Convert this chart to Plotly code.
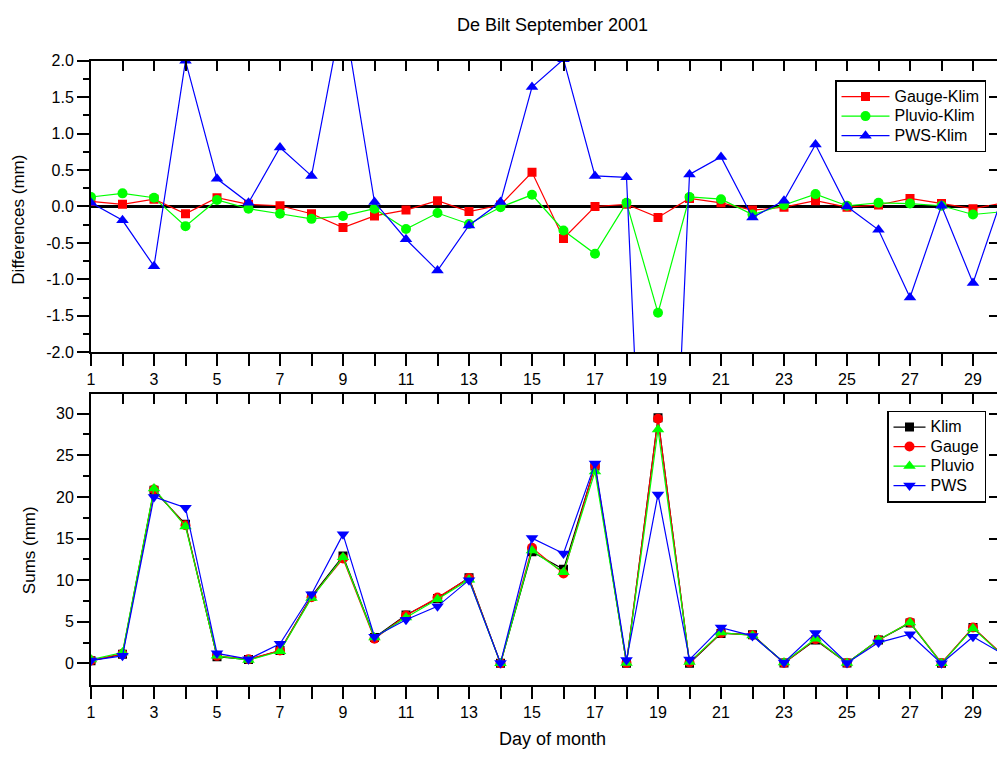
import plotly.graph_objects as go

# Days of September 2001
days = list(range(1, 31))

# Daily differences against the Klim reference (mm)
gauge_klim = [0.07, 0.03, 0.10, -0.10, 0.12, 0.03, 0.01, -0.10, -0.29, -0.13,
              -0.05, 0.08, -0.07, 0.02, 0.47, -0.44, 0.00, 0.03, -0.15, 0.11,
              0.05, -0.05, -0.01, 0.08, -0.01, 0.02, 0.11, 0.04, -0.03, 0.05]
pluvio_klim = [0.13, 0.18, 0.12, -0.27, 0.09, -0.03, -0.10, -0.17, -0.13, -0.03,
               -0.31, -0.09, -0.24, -0.01, 0.16, -0.33, -0.65, 0.05, -1.46, 0.13,
               0.10, -0.11, 0.02, 0.17, 0.01, 0.05, 0.04, 0.01, -0.11, -0.07]
pws_klim = [0.05, -0.19, -0.82, 2.00, 0.38, 0.05, 0.81, 0.42, 2.70, 0.06,
            -0.45, -0.88, -0.26, 0.06, 1.64, 2.02, 0.42, 0.40, -9.20, 0.44,
            0.68, -0.15, 0.08, 0.85, 0.00, -0.32, -1.25, 0.01, -1.05, 0.22]

# Daily sums (mm)
klim = [0.3, 1.1, 20.8, 16.7, 0.8, 0.45, 1.55, 8.05, 12.9, 3.1,
        5.8, 7.8, 10.3, 0.0, 13.4, 11.3, 23.7, 0.0, 29.5, 0.0,
        3.6, 3.45, 0.05, 2.8, 0.05, 2.8, 4.85, 0.0, 4.3, 0.8]
gauge = [0.35, 1.15, 20.9, 16.6, 0.9, 0.5, 1.55, 7.95, 12.6, 2.95,
         5.75, 7.9, 10.25, 0.0, 13.9, 10.8, 23.7, 0.05, 29.4, 0.1,
         3.65, 3.4, 0.05, 2.9, 0.05, 2.8, 4.95, 0.05, 4.3, 0.85]
pluvio = [0.45, 1.3, 21.0, 16.45, 0.9, 0.4, 1.45, 7.85, 12.75, 3.1,
          5.5, 7.7, 10.05, 0.0, 13.55, 10.95, 23.05, 0.05, 28.1, 0.15,
          3.7, 3.35, 0.1, 2.95, 0.05, 2.85, 4.9, 0.0, 4.2, 0.75]
pws = [0.35, 0.9, 20.0, 18.7, 1.2, 0.5, 2.35, 8.3, 15.5, 3.2,
       5.25, 6.85, 10.0, 0.05, 15.05, 13.2, 24.0, 0.4, 20.3, 0.45,
       4.3, 3.3, 0.1, 3.65, 0.05, 2.5, 3.5, 0.0, 3.2, 1.0]

# Axis ticks
x_ticktext = [str(d) if d % 2 == 1 else "" for d in days]
diff_ticks = [-2.0, -1.5, -1.0, -0.5, 0.0, 0.5, 1.0, 1.5, 2.0]
diff_minor = [-1.75, -1.25, -0.75, -0.25, 0.25, 0.75, 1.25, 1.75]
sum_ticks = [0, 5, 10, 15, 20, 25, 30]
sum_minor = [2.5, 7.5, 12.5, 17.5, 22.5, 27.5, 32.5]

FONT = "Liberation Sans, Arial, sans-serif"
W, H = 997, 763
LEFT = 91


def legend_label(text):
    return f'<span style="font-size:16px">{text}</span>'


fig = go.Figure()

diff_series = [
    ("Gauge-Klim", gauge_klim, "#ff0000", "square", 9),
    ("Pluvio-Klim", pluvio_klim, "#00ff00", "circle", 10),
    ("PWS-Klim", pws_klim, "#0000ff", "triangle-up", 11),
]
for name, vals, color, sym, size in diff_series:
    fig.add_trace(go.Scatter(
        x=days, y=vals, name=legend_label(name), mode="lines+markers",
        line=dict(color=color, width=1.2),
        marker=dict(color=color, symbol=sym, size=size),
        xaxis="x", yaxis="y", legend="legend",
    ))

sum_series = [
    ("Klim", klim, "#000000", "square", 9),
    ("Gauge", gauge, "#ff0000", "circle", 10),
    ("Pluvio", pluvio, "#00ff00", "triangle-up", 11),
    ("PWS", pws, "#0000ff", "triangle-down", 11),
]
for name, vals, color, sym, size in sum_series:
    fig.add_trace(go.Scatter(
        x=days, y=vals, name=legend_label(name), mode="lines+markers",
        line=dict(color=color, width=1.2),
        marker=dict(color=color, symbol=sym, size=size),
        xaxis="x2", yaxis="y2", legend="legend2",
    ))

# empty traces so the mirrored tick axes are laid out
for xa, ya in [("x3", "y"), ("x", "y3"), ("x4", "y2"), ("x2", "y4")]:
    fig.add_trace(go.Scatter(x=[None], y=[None], xaxis=xa, yaxis=ya,
                             showlegend=False, hoverinfo="skip"))

XR = [1, 1 + (W - LEFT) / 31.5]
top_dom = [1 - 352 / H, 1 - 54 / H]
bot_dom = [1 - 692 / H, 1 - 394.5 / H]

tickfont = dict(family=FONT, size=16, color="black")
xcommon = dict(range=XR, tickmode="array", tickvals=days, ticktext=x_ticktext,
               showgrid=False, zeroline=False, linecolor="black", linewidth=2,
               tickcolor="black", tickwidth=2, tickfont=tickfont)

legend_common = dict(xanchor="right", yanchor="top", bgcolor="white",
                     bordercolor="black", borderwidth=1.5,
                     font=dict(family=FONT, size=12.7, color="black"),
                     tracegroupgap=0)

fig.update_layout(
    width=W, height=H, autosize=False,
    margin=dict(l=LEFT, r=0, t=0, b=0),
    paper_bgcolor="white", plot_bgcolor="white",
    showlegend=True,
    xaxis=dict(xcommon, domain=[0, 1], anchor="y", ticks="outside", ticklen=12,
               showline=True),
    xaxis3=dict(xcommon, overlaying="x", side="top", anchor="y", ticks="inside",
                ticklen=10, showline=True, showticklabels=False),
    yaxis=dict(domain=top_dom, range=[-2, 2], anchor="x",
               tickmode="array", tickvals=diff_ticks,
               ticktext=[f"{v:.1f}" for v in diff_ticks],
               ticks="outside", ticklen=12, tickwidth=2, tickcolor="black",
               minor=dict(tickmode="array", tickvals=diff_minor, ticks="outside",
                          ticklen=6, tickwidth=2, tickcolor="black", showgrid=False),
               showline=True, linecolor="black", linewidth=2, showgrid=False,
               zeroline=True, zerolinecolor="black", zerolinewidth=3,
               tickfont=tickfont),
    yaxis3=dict(overlaying="y", side="right", anchor="x", range=[-2, 2],
                tickmode="array", tickvals=diff_ticks, ticks="inside", ticklen=8,
                tickwidth=2, tickcolor="black", showticklabels=False,
                showline=False, showgrid=False, zeroline=False),
    xaxis2=dict(xcommon, domain=[0, 1], anchor="y2", ticks="outside", ticklen=12,
                showline=True),
    xaxis4=dict(xcommon, overlaying="x2", side="top", anchor="y2", ticks="inside",
                ticklen=10, showline=True, showticklabels=False),
    yaxis2=dict(domain=bot_dom, range=[-2.55, 32.4], anchor="x2",
                tickmode="array", tickvals=sum_ticks,
                ticktext=[str(v) for v in sum_ticks],
                ticks="outside", ticklen=12, tickwidth=2, tickcolor="black",
                minor=dict(tickmode="array", tickvals=sum_minor, ticks="outside",
                           ticklen=6, tickwidth=2, tickcolor="black", showgrid=False),
                showline=True, linecolor="black", linewidth=2, showgrid=False,
                zeroline=False, tickfont=tickfont),
    yaxis4=dict(overlaying="y2", side="right", anchor="x2", range=[-2.55, 32.4],
                tickmode="array", tickvals=sum_ticks, ticks="inside", ticklen=8,
                tickwidth=2, tickcolor="black", showticklabels=False,
                showline=False, showgrid=False, zeroline=False),
    legend=dict(legend_common, x=(986 - LEFT) / (W - LEFT), y=1 - 74 / H,
                itemwidth=48),
    legend2=dict(legend_common, x=(986 - LEFT) / (W - LEFT), y=1 - 412 / H,
                 itemwidth=32),
    annotations=[
        dict(text="De Bilt September 2001", x=(552 - LEFT) / (W - LEFT),
             y=1 - 17 / H, xref="paper", yref="paper", showarrow=False,
             xanchor="center", yanchor="middle",
             font=dict(family=FONT, size=18, color="black")),
        dict(text="Day of month", x=(552 - LEFT) / (W - LEFT), y=1 - 748 / H,
             xref="paper", yref="paper", showarrow=False, xanchor="center",
             yanchor="middle", font=dict(family=FONT, size=18, color="black")),
        dict(text="Differences (mm)", x=(18.5 - LEFT) / (W - LEFT), y=1 - 217 / H,
             xref="paper", yref="paper", showarrow=False, textangle=-90,
             xanchor="center", yanchor="middle",
             font=dict(family=FONT, size=17, color="black")),
        dict(text="Sums (mm)", x=(29.5 - LEFT) / (W - LEFT), y=1 - 555 / H,
             xref="paper", yref="paper", showarrow=False, textangle=-90,
             xanchor="center", yanchor="middle",
             font=dict(family=FONT, size=17, color="black")),
    ],
)

fig.write_html("out.html")
